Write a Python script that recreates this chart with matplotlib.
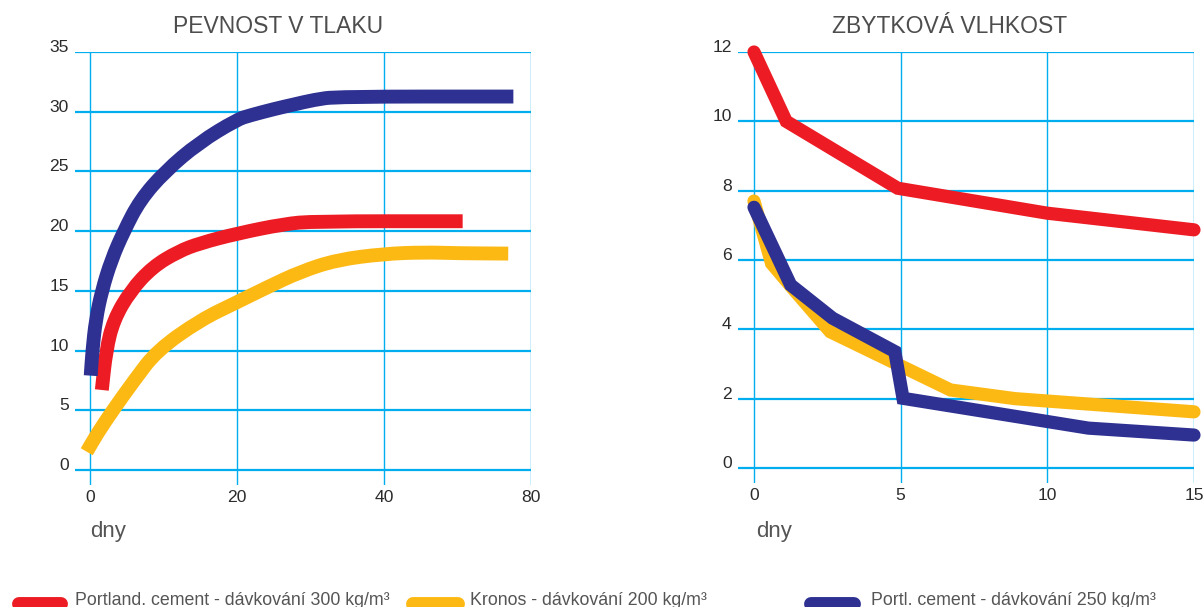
import matplotlib.pyplot as plt
from matplotlib.lines import Line2D
from matplotlib.path import Path
from matplotlib.patches import PathPatch

plt.rcParams['font.family'] = ['Liberation Sans', 'DejaVu Sans']

# barvy
RED = '#ED1C24'
YELLOW = '#FDB913'
BLUE = '#2E3192'
GRID = '#00AEEF'

# pevnost v tlaku (x = dny, poloha na mrizce 0,20,40,60 -> popisky 0,20,40,80)
strength_ticks = [0, 20, 40, 60]
strength_ticklabels = ['0', '20', '40', '80']
strength_yticks = [0, 5, 10, 15, 20, 25, 30, 35]

blue_x = [0.09, 0.32, 0.77, 1.6, 2.9, 4.6, 6.8, 10.2, 14.8, 20, 21.8, 25.2, 27.7, 30.5, 33.6, 57.6]
blue_y = [7.9, 10, 12.56, 15, 17.6, 20, 22.6, 25, 27.4, 29.35, 29.7, 30.25, 30.6, 31.0, 31.27, 31.27]

red_x = [1.6, 2.18, 3.2, 5.5, 8.5, 12, 15, 20, 26.4, 30.5, 50.7]
red_y = [6.7, 10, 12.56, 15, 17, 18.3, 19.0, 19.8, 20.6, 20.83, 20.83]

yellow_x = [-0.45, 1.0, 3.1, 6.05, 9.1, 15, 20, 24.1, 28.6, 33.6, 40, 45.4, 50, 56.9]
yellow_y = [1.53, 3.07, 5, 7.54, 10, 12.56, 14.05, 15.3, 16.6, 17.6, 18.1, 18.23, 18.15, 18.12]

# zbytkova vlhkost
moist_xticks = [0, 5, 10, 15]
moist_yticks = [0, 2, 4, 6, 8, 10, 12]

red_mx = [0, 1.1, 4.9, 10, 15]
red_my = [12, 10, 8.07, 7.35, 6.87]

yellow_mx = [0, 0.6, 1.3, 2.6, 6.7, 8.9, 15]
yellow_my = [7.7, 5.9, 5.2, 3.93, 2.25, 2.0, 1.62]

blue_mx = [0, 1.25, 2.68, 4.8, 5.08, 11.4, 15]
blue_my = [7.52, 5.28, 4.32, 3.36, 2.01, 1.15, 0.95]

legend_labels = ['Portland. cement - dávkování 300 kg/m³',
                 'Kronos - dávkování 200 kg/m³',
                 'Portl. cement - dávkování 250 kg/m³']

W, H = 1203, 607
fig = plt.figure(figsize=(W / 100, H / 100), dpi=100)

ax1 = fig.add_axes([75 / W, 1 - 485 / H, 456 / W, 433 / H])
ax2 = fig.add_axes([738 / W, 1 - 483 / H, 456 / W, 431 / H])


def style(ax, xticks, xlabels, yticks):
    for s in ax.spines.values():
        s.set_visible(False)
    ax.set_xticks(xticks)
    ax.set_xticklabels(xlabels)
    ax.set_yticks(yticks)
    ax.tick_params(length=0, labelsize=12.6, colors='#2b2b2b')
    ax.tick_params(axis='y', pad=4.5)
    ax.tick_params(axis='x', pad=3.5)
    for lab in ax.get_yticklabels():
        lab.set_verticalalignment('baseline')
    ax.grid(axis='y', color=GRID, lw=1.6)
    ax.grid(axis='x', color=GRID, lw=1.0)
    ax.set_axisbelow(True)


def smooth_line(ax, xs, ys, color):
    # hladka krivka: kvadraticke bezierovy useky s ridicimi body v nactenych hodnotach
    pts = list(zip(xs, ys))
    verts = [pts[0]]
    codes = [Path.MOVETO]
    mids = [((a[0] + b[0]) / 2, (a[1] + b[1]) / 2) for a, b in zip(pts[:-1], pts[1:])]
    verts.append(mids[0])
    codes.append(Path.LINETO)
    for i in range(1, len(pts) - 1):
        verts += [pts[i], mids[i]]
        codes += [Path.CURVE3, Path.CURVE3]
    verts.append(pts[-1])
    codes.append(Path.LINETO)
    patch = PathPatch(Path(verts, codes), fill=False, edgecolor=color, lw=10,
                      capstyle='butt', joinstyle='round', clip_on=False)
    ax.add_patch(patch)


style(ax1, strength_ticks, strength_ticklabels, strength_yticks)
ax1.set_xlim(-2.05, 60)
ax1.set_ylim(-1.256, 35)

smooth_line(ax1, yellow_x, yellow_y, YELLOW)
smooth_line(ax1, red_x, red_y, RED)
smooth_line(ax1, blue_x, blue_y, BLUE)

style(ax2, moist_xticks, [str(t) for t in moist_xticks], moist_yticks)
ax2.set_xlim(-0.545, 15)
ax2.set_ylim(-0.433, 12)

kw2 = dict(lw=9.5, solid_capstyle='round', solid_joinstyle='miter', clip_on=False)
ax2.plot(red_mx, red_my, color=RED, **kw2)
ax2.plot(yellow_mx, yellow_my, color=YELLOW, **kw2)
ax2.plot(blue_mx, blue_my, color=BLUE, **kw2)

# nadpisy a popisky os
fig.text(278 / W, 1 - 33 / H, 'PEVNOST V TLAKU', ha='center', va='baseline',
         fontsize=16.5, color='#4d4d4d')
fig.text(950 / W, 1 - 33 / H, 'ZBYTKOVÁ VLHKOST', ha='center', va='baseline',
         fontsize=16.5, color='#4d4d4d')
fig.text(90 / W, 1 - 537 / H, 'dny', ha='left', va='baseline', fontsize=16, color='#555555')
fig.text(756 / W, 1 - 537 / H, 'dny', ha='left', va='baseline', fontsize=16, color='#555555')

# legenda dole (orizla okrajem)
leg_marks = [(19, 61), (413, 458), (811, 854)]
leg_text_x = [75, 470, 871]
for (x0, x1), tx, col, lab in zip(leg_marks, leg_text_x, [RED, YELLOW, BLUE], legend_labels):
    fig.add_artist(Line2D([x0 / W, x1 / W], [1 - 604 / H, 1 - 604 / H], color=col, lw=10,
                          solid_capstyle='round', transform=fig.transFigure))
    fig.text(tx / W, 1 - 605 / H, lab, ha='left', va='baseline', fontsize=12.8, color='#555555')

fig.savefig('out.png', dpi=100)
